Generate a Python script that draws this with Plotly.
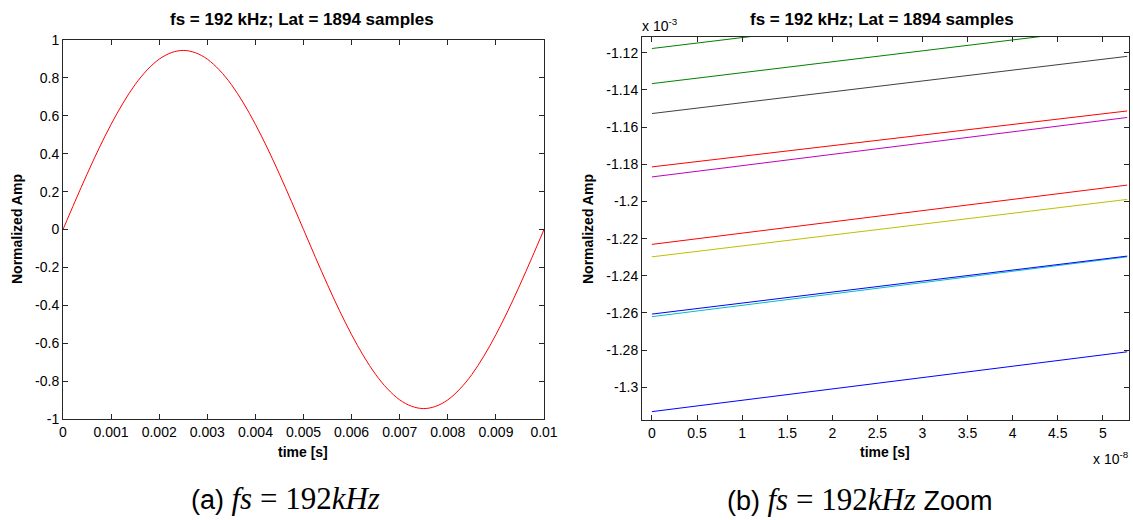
import plotly.graph_objects as go

# ---------------- data ----------------
# (a) full view: time in seconds, normalized amplitude (read every 0.25 ms)
t_full = [i * 0.00025 for i in range(41)]
amp_full = [0.0, 0.148, 0.292, 0.429, 0.555, 0.668, 0.765, 0.842, 0.899, 0.933,
            0.945, 0.933, 0.899, 0.842, 0.765, 0.668, 0.555, 0.429, 0.292, 0.148,
            0.0, -0.148, -0.292, -0.429, -0.555, -0.668, -0.765, -0.842, -0.899, -0.933,
            -0.945, -0.933, -0.899, -0.842, -0.765, -0.668, -0.555, -0.429, -0.292, -0.148,
            0.0]

# (b) zoom: time in units of 1e-8 s, amplitude in units of 1e-3
t_zoom = [0.0, 5.27]
zoom_start = [-1.3131, -1.1177, -1.2231, -1.2620, -1.1868, -1.2298, -1.1527, -1.2606, -1.1366, -1.1814]
zoom_end = [-1.2809, -1.0867, -1.1912, -1.2298, -1.1548, -1.1989, -1.1219, -1.2294, -1.1056, -1.1513]
zoom_colors = ["#0000ff", "#008000", "#ff0000", "#00bfbf", "#bf00bf",
               "#bfbf00", "#404040", "#0000ff", "#008000", "#ff0000"]

# tick labels
xa_vals = [0, 0.001, 0.002, 0.003, 0.004, 0.005, 0.006, 0.007, 0.008, 0.009, 0.01]
xa_text = ["0", "0.001", "0.002", "0.003", "0.004", "0.005", "0.006", "0.007", "0.008", "0.009", "0.01"]
ya_vals = [1, 0.8, 0.6, 0.4, 0.2, 0, -0.2, -0.4, -0.6, -0.8, -1]
ya_text = ["1", "0.8", "0.6", "0.4", "0.2", "0", "-0.2", "-0.4", "-0.6", "-0.8", "-1"]
xb_vals = [0, 0.5, 1, 1.5, 2, 2.5, 3, 3.5, 4, 4.5, 5]
xb_text = ["0", "0.5", "1", "1.5", "2", "2.5", "3", "3.5", "4", "4.5", "5"]
yb_vals = [-1.12, -1.14, -1.16, -1.18, -1.2, -1.22, -1.24, -1.26, -1.28, -1.3]
yb_text = ["-1.12", "-1.14", "-1.16", "-1.18", "-1.2", "-1.22", "-1.24", "-1.26", "-1.28", "-1.3"]

title_text = "fs = 192 kHz; Lat = 1894 samples"

# ---------------- figure ----------------
fig = go.Figure()

fig.add_trace(go.Scatter(x=t_full, y=amp_full, mode="lines", line=dict(color="#ff0000", width=1, shape="spline"),
                         xaxis="x", yaxis="y", showlegend=False, hoverinfo="skip"))

for s, e, c in zip(zoom_start, zoom_end, zoom_colors):
    fig.add_trace(go.Scatter(x=t_zoom, y=[s, e], mode="lines", line=dict(color=c, width=1),
                             xaxis="x2", yaxis="y2", showlegend=False, hoverinfo="skip"))

W, H = 1133, 520
def px(x): return x / W
def py(y): return 1 - y / H

SANS = "Liberation Sans, Arial, sans-serif"
axis_common = dict(showline=True, linecolor="#262626", linewidth=1, mirror="allticks",
                   ticks="inside", ticklen=5, tickcolor="#262626", showgrid=False, zeroline=False,
                   tickfont=dict(family=SANS, size=14, color="#000000"),
                   tickmode="array", automargin=False)

fig.update_layout(
    width=W, height=H, margin=dict(l=0, r=0, t=0, b=0, pad=0),
    paper_bgcolor="white", plot_bgcolor="white",
    xaxis=dict(domain=[px(63), px(544)], range=[0, 0.01], tickvals=xa_vals, ticktext=xa_text,
               anchor="y", **axis_common),
    yaxis=dict(domain=[py(419), py(40)], range=[-1, 1], tickvals=ya_vals, ticktext=ya_text,
               anchor="x", **axis_common),
    xaxis2=dict(domain=[px(642), px(1129)], range=[-0.11, 5.29], tickvals=xb_vals, ticktext=xb_text,
                anchor="y2", **axis_common),
    yaxis2=dict(domain=[py(420), py(37)], range=[-1.3176, -1.1115], tickvals=yb_vals, ticktext=yb_text,
                anchor="x2", **axis_common),
)

bold = dict(family=SANS, size=17, color="#000000")
lab = dict(family=SANS, size=14, color="#000000")
ann = []
# titles
ann.append(dict(x=px(302), y=py(20), xref="paper", yref="paper", text="<b>" + title_text + "</b>",
                showarrow=False, font=bold, xanchor="center", yanchor="middle"))
ann.append(dict(x=px(882), y=py(20), xref="paper", yref="paper", text="<b>" + title_text + "</b>",
                showarrow=False, font=bold, xanchor="center", yanchor="middle"))
# axis titles
ann.append(dict(x=px(303), y=py(452), xref="paper", yref="paper", text="<b>time [s]</b>",
                showarrow=False, font=lab, xanchor="center", yanchor="middle"))
ann.append(dict(x=px(885), y=py(452), xref="paper", yref="paper", text="<b>time [s]</b>",
                showarrow=False, font=lab, xanchor="center", yanchor="middle"))
ann.append(dict(x=px(17), y=py(229), xref="paper", yref="paper", text="<b>Normalized Amp</b>",
                showarrow=False, font=lab, textangle=-90, xanchor="center", yanchor="middle"))
ann.append(dict(x=px(588), y=py(229), xref="paper", yref="paper", text="<b>Normalized Amp</b>",
                showarrow=False, font=lab, textangle=-90, xanchor="center", yanchor="middle"))
# exponent labels
ann.append(dict(x=px(640), y=py(25), xref="paper", yref="paper", text="x 10<sup>-3</sup>",
                showarrow=False, font=lab, xanchor="left", yanchor="middle"))
ann.append(dict(x=px(1131), y=py(458), xref="paper", yref="paper", text="x 10<sup>-8</sup>",
                showarrow=False, font=lab, xanchor="right", yanchor="middle"))
# captions
serif = "font-family:'Liberation Serif','Times New Roman',serif;font-size:31px"
math = "<span style=\"" + serif + "\"><i>fs</i>\u00a0=\u00a0192<i>kHz</i></span>"
ann.append(dict(x=px(285), y=py(498), xref="paper", yref="paper",
                text="(a) " + math,
                showarrow=False, font=dict(family=SANS, size=27, color="#000000"),
                xanchor="center", yanchor="middle"))
ann.append(dict(x=px(859), y=py(499), xref="paper", yref="paper",
                text="(b) " + math + " Zoom",
                showarrow=False, font=dict(family=SANS, size=27, color="#000000"),
                xanchor="center", yanchor="middle"))
fig.update_layout(annotations=ann)

fig.write_html("out.html",
               post_script="document.body.style.margin='0';document.body.style.overflow='hidden';")
